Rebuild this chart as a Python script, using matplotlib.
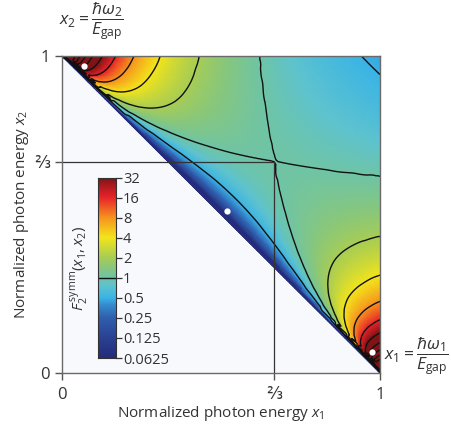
import numpy as np
import matplotlib
matplotlib.use("Agg")
import matplotlib.pyplot as plt
import matplotlib.tri as mtri
from matplotlib.colors import LinearSegmentedColormap

plt.rcParams['font.family'] = ['Open Sans', 'DejaVu Sans']
plt.rcParams['mathtext.fontset'] = 'custom'
plt.rcParams['mathtext.rm'] = 'Open Sans'
plt.rcParams['mathtext.it'] = 'Open Sans:italic'
plt.rcParams['mathtext.sf'] = 'Open Sans'

# field: log2 F2symm on rows of s = x1 + x2 - 1,
# columns u = position along the row (0 = top edge, 0.5 = diagonal)
s_levels = [0.0, 0.01, 0.025, 0.045, 0.07, 0.1, 0.14, 0.19, 0.25, 1 / 3,
            0.42, 0.52, 0.63, 0.75, 0.87, 0.95]
u_levels = [0, 0.01, 0.025, 0.045, 0.07, 0.1, 0.14, 0.19, 0.25, 0.32, 0.41, 0.5]
log2_F = [
    [10.0, -8.0, -8.0, -8.0, -8.0, -8.0, -8.0, -8.0, -8.0, -8.0, -8.0, -8.0],
    [10.0, 10.0, 7.19, 4.55, 2.42, 0.67, -0.96, -2.36, -3.50, -4.37, -4.99, -5.18],
    [10.0, 9.13, 7.07, 5.15, 3.45, 1.98, 0.55, -0.71, -1.76, -2.56, -3.15, -3.33],
    [8.83, 7.71, 6.37, 4.99, 3.67, 2.46, 1.25, 0.15, -0.79, -1.52, -2.06, -2.22],
    [7.16, 6.45, 5.55, 4.55, 3.54, 2.58, 1.57, 0.63, -0.19, -0.84, -1.32, -1.47],
    [5.85, 5.37, 4.74, 4.02, 3.25, 2.49, 1.67, 0.88, 0.18, -0.38, -0.81, -0.94],
    [4.64, 4.33, 3.90, 3.39, 2.83, 2.26, 1.62, 0.99, 0.42, -0.05, -0.41, -0.52],
    [3.58, 3.38, 3.09, 2.74, 2.34, 1.92, 1.45, 0.97, 0.52, 0.15, -0.14, -0.23],
    [2.67, 2.54, 2.35, 2.11, 1.83, 1.54, 1.20, 0.85, 0.51, 0.23, 0.01, -0.06],
    [1.76, 1.68, 1.57, 1.42, 1.25, 1.07, 0.85, 0.62, 0.40, 0.20, 0.05, 0.0],
    [1.07, 1.03, 0.96, 0.87, 0.76, 0.65, 0.51, 0.36, 0.22, 0.09, -0.01, -0.04],
    [0.47, 0.45, 0.41, 0.36, 0.30, 0.23, 0.15, 0.07, -0.02, -0.09, -0.15, -0.17],
    [-0.04, -0.05, -0.07, -0.09, -0.12, -0.16, -0.20, -0.24, -0.28, -0.32, -0.35, -0.36],
    [-0.47, -0.48, -0.48, -0.49, -0.51, -0.52, -0.53, -0.55, -0.57, -0.58, -0.59, -0.60],
    [-0.82, -0.82, -0.83, -0.83, -0.83, -0.83, -0.84, -0.84, -0.84, -0.85, -0.85, -0.85],
    [-1.02, -1.02, -1.02, -1.02, -1.02, -1.02, -1.02, -1.02, -1.02, -1.02, -1.02, -1.02],
]
log2_F_corner = -1.13   # value at (1, 1)

cbar_ticks = [-4, -3, -2, -1, 0, 1, 2, 3, 4, 5]
cbar_labels = ['0.0625', '0.125', '0.25', '0.5', '1', '2', '4', '8', '16', '32']
contour_levels = [-1, 0, 1, 2, 3, 4, 5, 6, 7, 8, 9]
dots_x1 = [0.07, 0.52, 0.975]
dots_x2 = [0.97, 0.51, 0.065]

cmap = LinearSegmentedColormap.from_list('f2', [
    (0.0, '#252c7a'), (0.111, '#2b4193'), (0.222, '#305fae'), (0.29, '#3589cc'),
    (0.333, '#3ab4e6'), (0.40, '#5ec3cf'), (0.444, '#6fc4a6'), (0.50, '#89c77c'),
    (0.556, '#a8cd55'), (0.667, '#f3e51b'), (0.778, '#f6921f'), (0.889, '#e8232a'),
    (1.0, '#7e1416')])

# build the mesh from the table (mirror about the diagonal)
u_full = u_levels + [1 - u for u in u_levels[-2::-1]]
m = len(u_full)
xs, ys, zs = [], [], []
for s, row in zip(s_levels, log2_F):
    vals = row + row[-2::-1]
    for u, v in zip(u_full, vals):
        xs.append(s + u * (1 - s))
        ys.append(1 - u * (1 - s))
        zs.append(v)
xs.append(1.0); ys.append(1.0); zs.append(log2_F_corner)
apex = len(xs) - 1
tris = []
nr = len(s_levels)
for r in range(nr - 1):
    for j in range(m - 1):
        a, b = r * m + j, r * m + j + 1
        c, d = (r + 1) * m + j, (r + 1) * m + j + 1
        tris += [[a, b, d], [a, d, c]]
for j in range(m - 1):
    tris.append([(nr - 1) * m + j, (nr - 1) * m + j + 1, apex])
tri = mtri.Triangulation(xs, ys, tris)
zs = np.array(zs)
interp = mtri.CubicTriInterpolator(tri, zs, kind='geom')
tri_f, z_f = mtri.UniformTriRefiner(tri).refine_field(zs, triinterpolator=interp, subdiv=3)

fig = plt.figure(figsize=(4.51, 4.29), dpi=100)
ax = fig.add_axes([0.1375, 0.1305, 0.7051, 0.7389])
ax.set_facecolor('#f8f9fd')
ax.tripcolor(tri_f, np.clip(z_f, -4, 5), shading='gouraud', cmap=cmap, vmin=-4, vmax=5)
ax.tricontour(tri_f, z_f, levels=contour_levels, colors='#111111', linewidths=1.0,
              linestyles='solid')
ax.plot([0, 2 / 3], [2 / 3, 2 / 3], color='#333333', lw=0.9)
ax.plot([2 / 3, 2 / 3], [0, 2 / 3], color='#333333', lw=0.9)
ax.plot(dots_x1, dots_x2, 'o', color='white', ms=4.5, mec='none', zorder=5)
ax.set_xlim(0, 1)
ax.set_ylim(0, 1)
ax.set_xticks([0, 2 / 3, 1])
ax.set_xticklabels(['0', '⅔', '1'])
ax.set_yticks([0, 2 / 3, 1])
ax.set_yticklabels(['0', '⅔', '1'])
ax.tick_params(length=5, width=1, color='#555555', labelsize=12, labelcolor='#333333')
ax.tick_params(axis='x', pad=5)
for sp in ax.spines.values():
    sp.set_color('#6a6a6a')
    sp.set_linewidth(1.0)
ax.set_xlabel('Normalized photon energy $x_1$', fontsize=11, color='#333333', labelpad=1)
ax.set_ylabel('Normalized photon energy $x_2$', fontsize=11, color='#333333', labelpad=2)

fig.text(0.852, 0.168, r'$x_1 = \dfrac{\hbar\omega_1}{E_{\rm gap}}$', fontsize=12.5,
         color='#333333', ha='left', va='center')
fig.text(0.13, 0.948, r'$x_2 = \dfrac{\hbar\omega_2}{E_{\rm gap}}$', fontsize=12.5,
         color='#333333', ha='left', va='center')

# colour key
cax = fig.add_axes([0.2173, 0.1655, 0.040, 0.4196])
grad = np.linspace(-4, 5, 256).reshape(-1, 1)
cax.imshow(grad, cmap=cmap, vmin=-4, vmax=5, aspect='auto', origin='lower',
           extent=[0, 1, -4, 5])
cax.axhline(0, color='#111111', lw=1.0)
cax.set_xticks([])
cax.yaxis.tick_right()
cax.set_yticks(cbar_ticks)
cax.set_yticklabels(cbar_labels)
cax.tick_params(length=4, width=0.9, color='#333333', labelsize=10.5, labelcolor='#333333', pad=1)
for sp in cax.spines.values():
    sp.set_color('#333333')
    sp.set_linewidth(0.8)
cax.set_ylabel(r'$F_2^{\,\rm symm}(x_1, x_2)$', fontsize=11, color='#333333', labelpad=5)

fig.savefig('out.png', dpi=100)
